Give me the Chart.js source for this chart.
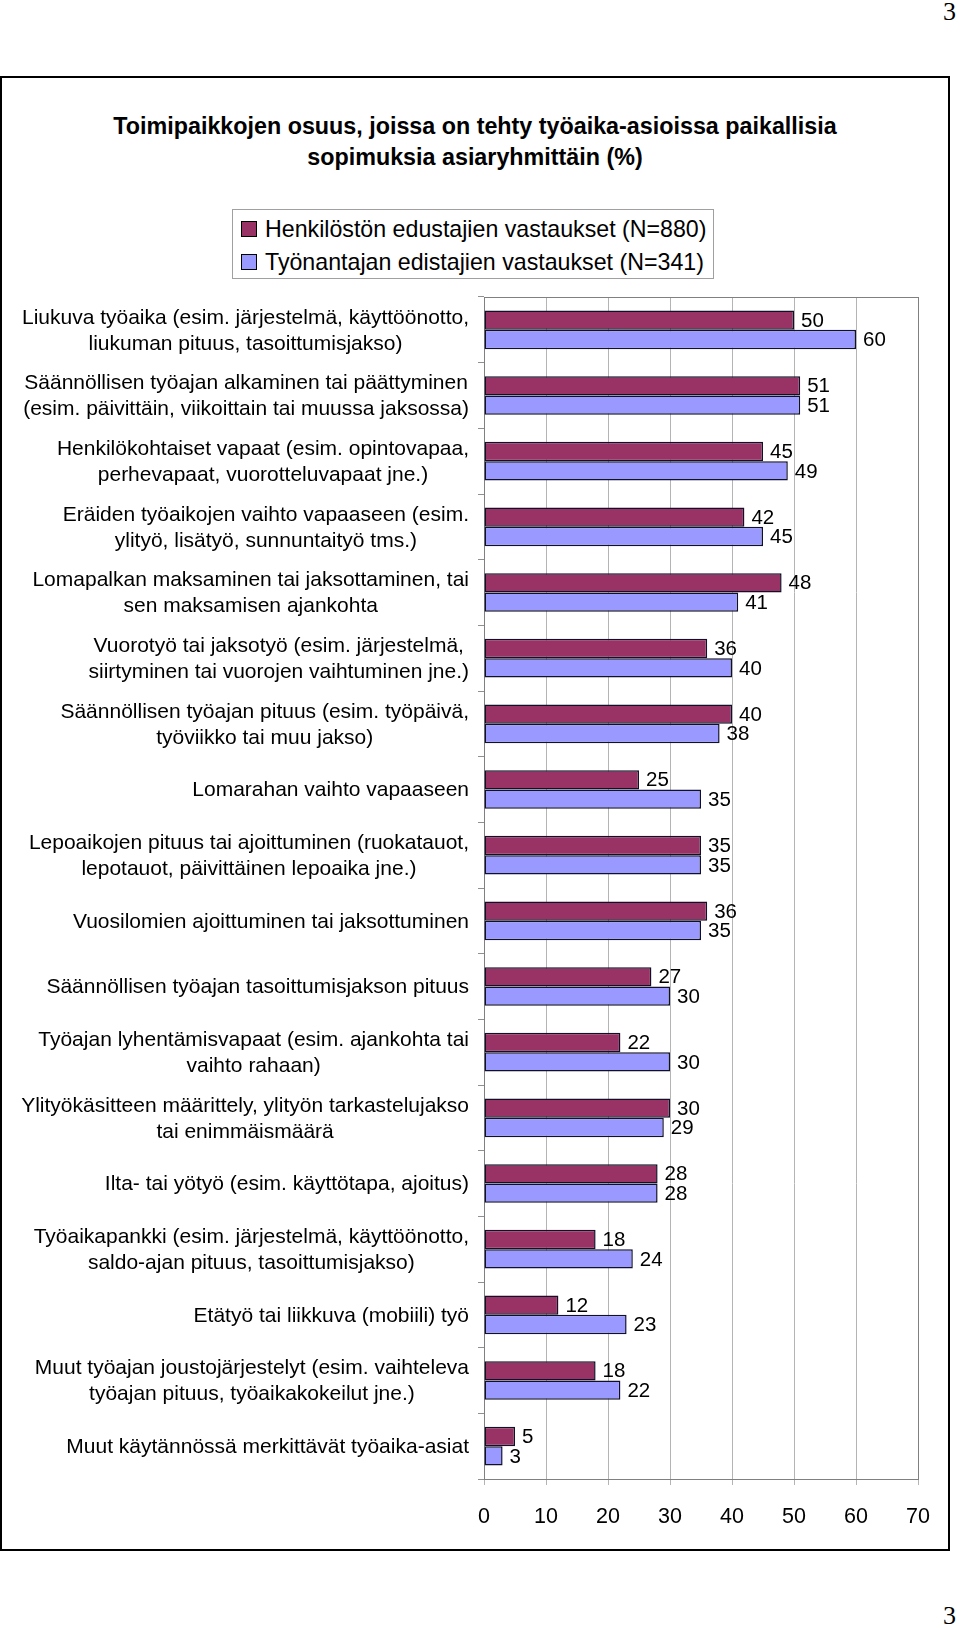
<!DOCTYPE html>
<html lang="fi">
<head>
<meta charset="utf-8">
<title>Paikalliset sopimukset asiaryhmittäin</title>
<script src="https://cdn.jsdelivr.net/npm/chart.js@4.4.0/dist/chart.umd.min.js"></script>
<style>
  html, body { margin:0; padding:0; background:#fff; }
  body { width:960px; height:1630px; position:relative; overflow:hidden; font-family:"Liberation Sans", Arial, sans-serif; color:#000; }
  .pagenum { position:absolute; right:4px; font:26px/1 "Liberation Serif", "Times New Roman", serif; }
  #frame { position:absolute; left:0; top:76px; width:950px; height:1475px; border:2px solid #000; box-sizing:border-box; }
  #title { position:absolute; left:0; top:111px; width:950px; text-align:center; font-weight:bold; font-size:23.3px; line-height:31px; white-space:nowrap; }
  #legend { position:absolute; left:232px; top:209px; width:482px; height:70px; border:1px solid #a0a0a0; box-sizing:border-box; padding-top:2.5px; }
  .item { height:33px; display:flex; align-items:center; font-size:23.2px; white-space:nowrap; }
  .swatch { width:14px; height:14px; border:1px solid #000; margin:0 8px 0 8px; }
  #wrap { position:absolute; left:0; top:285px; width:960px; height:1260px; }
</style>
</head>
<body>
<div class="pagenum" style="top:-1px">3</div>
<div id="frame"></div>
<div id="title">Toimipaikkojen osuus, joissa on tehty työaika-asioissa paikallisia<br>sopimuksia asiaryhmittäin (%)</div>
<div id="legend"></div>
<div id="wrap"><canvas id="chart" width="960" height="1260"></canvas></div>
<div class="pagenum" style="top:1603px">3</div>

<script>
// categories (each entry = label lines, as in the original)
const categories = [
  ['Liukuva työaika (esim. järjestelmä, käyttöönotto,', 'liukuman pituus, tasoittumisjakso)'],
  ['Säännöllisen työajan alkaminen tai päättyminen', '(esim. päivittäin, viikoittain tai muussa jaksossa)'],
  ['Henkilökohtaiset vapaat (esim. opintovapaa,', 'perhevapaat, vuorotteluvapaat jne.)'],
  ['Eräiden työaikojen vaihto vapaaseen (esim.', 'ylityö, lisätyö, sunnuntaityö tms.)'],
  ['Lomapalkan maksaminen tai jaksottaminen, tai', 'sen maksamisen ajankohta'],
  ['Vuorotyö tai jaksotyö (esim. järjestelmä,', 'siirtyminen tai vuorojen vaihtuminen jne.)'],
  ['Säännöllisen työajan pituus (esim. työpäivä,', 'työviikko tai muu jakso)'],
  ['Lomarahan vaihto vapaaseen'],
  ['Lepoaikojen pituus tai ajoittuminen (ruokatauot,', 'lepotauot, päivittäinen lepoaika jne.)'],
  ['Vuosilomien ajoittuminen tai jaksottuminen'],
  ['Säännöllisen työajan tasoittumisjakson pituus'],
  ['Työajan lyhentämisvapaat (esim. ajankohta tai', 'vaihto rahaan)'],
  ['Ylityökäsitteen määrittely, ylityön tarkastelujakso', 'tai enimmäismäärä'],
  ['Ilta- tai yötyö (esim. käyttötapa, ajoitus)'],
  ['Työaikapankki (esim. järjestelmä, käyttöönotto,', 'saldo-ajan pituus, tasoittumisjakso)'],
  ['Etätyö tai liikkuva (mobiili) työ'],
  ['Muut työajan joustojärjestelyt (esim. vaihteleva', 'työajan pituus, työaikakokeilut jne.)'],
  ['Muut käytännössä merkittävät työaika-asiat']
];

const henkilostoValues = [50, 51, 45, 42, 48, 36, 40, 25, 35, 36, 27, 22, 30, 28, 18, 12, 18, 5];
const tyonantajaValues = [60, 51, 49, 45, 41, 40, 38, 35, 35, 35, 30, 30, 29, 28, 24, 23, 22, 3];

const seriesNames = ['Henkilöstön edustajien vastaukset (N=880)', 'Työnantajan edistajien vastaukset (N=341)'];
const seriesColors = ['#993366', '#9999FF'];

const xMin = 0, xMax = 70, xStep = 10;

const FONT = '"Liberation Sans", Arial, sans-serif';

// legend box (html)
const legendEl = document.getElementById('legend');
seriesNames.forEach((name, i) => {
  const row = document.createElement('div');
  row.className = 'item';
  const sw = document.createElement('span');
  sw.className = 'swatch';
  sw.style.background = seriesColors[i];
  row.appendChild(sw);
  row.appendChild(document.createTextNode(name));
  legendEl.appendChild(row);
});

// grey frame round the plot area
const plotFrame = {
  id: 'plotFrame',
  beforeDatasetsDraw(chart) {
    const { ctx, chartArea: a } = chart;
    ctx.save();
    ctx.strokeStyle = '#808080';
    ctx.lineWidth = 1;
    ctx.strokeRect(a.left + 0.5, a.top + 0.5, a.right - a.left, a.bottom - a.top);
    ctx.restore();
  }
};

// category labels: block right aligned, lines centred inside block
const catLabels = {
  id: 'catLabels',
  afterDraw(chart) {
    const { ctx } = chart;
    const y = chart.scales.y;
    const right = 469, lh = 26;
    ctx.save();
    ctx.font = '21px ' + FONT;
    ctx.fillStyle = '#000';
    ctx.textAlign = 'center';
    ctx.textBaseline = 'middle';
    chart.data.labels.forEach((lines, i) => {
      const w = Math.max(...lines.map(l => ctx.measureText(l).width));
      const cx = right - w / 2;
      const cy = y.getPixelForTick(i);
      const y0 = cy - (lines.length - 1) * lh / 2;
      lines.forEach((l, k) => ctx.fillText(l, cx, y0 + k * lh + 1));
    });
    ctx.restore();
  }
};

// value labels at the bar ends
const valueLabels = {
  id: 'valueLabels',
  afterDatasetsDraw(chart) {
    const { ctx } = chart;
    ctx.save();
    ctx.font = '20.5px ' + FONT;
    ctx.fillStyle = '#000';
    ctx.textAlign = 'left';
    ctx.textBaseline = 'middle';
    chart.data.datasets.forEach((ds, di) => {
      chart.getDatasetMeta(di).data.forEach((bar, j) => {
        ctx.fillText(String(ds.data[j]), bar.x + 7, bar.y + 1);
      });
    });
    ctx.restore();
  }
};

new Chart(document.getElementById('chart'), {
  type: 'bar',
  data: {
    labels: categories,
    datasets: [
      { label: seriesNames[0], data: henkilostoValues, backgroundColor: seriesColors[0] },
      { label: seriesNames[1], data: tyonantajaValues, backgroundColor: seriesColors[1] }
    ]
  },
  options: {
    indexAxis: 'y',
    responsive: false,
    animation: false,
    layout: { padding: { left: 0, right: 42, top: 12, bottom: 16 } },
    datasets: {
      bar: {
        categoryPercentage: 0.59,
        barPercentage: 1,
        borderColor: '#101028',
        borderWidth: 1.5,
        borderSkipped: false
      }
    },
    plugins: {
      legend: { display: false },
      tooltip: { enabled: false }
    },
    scales: {
      x: {
        min: xMin, max: xMax,
        ticks: { stepSize: xStep, color: '#000', font: { family: FONT, size: 21.5 }, padding: 19 },
        grid: { color: '#b4b4b4', tickLength: 6 },
        border: { color: '#808080' },
        afterFit(s) { s.height = 50; }
      },
      y: {
        ticks: { display: false },
        grid: { drawOnChartArea: false, color: '#909090', tickLength: 6 },
        border: { color: '#808080' },
        afterFit(s) { s.width = 484; }
      }
    }
  },
  plugins: [plotFrame, catLabels, valueLabels]
});
</script>
</body>
</html>
